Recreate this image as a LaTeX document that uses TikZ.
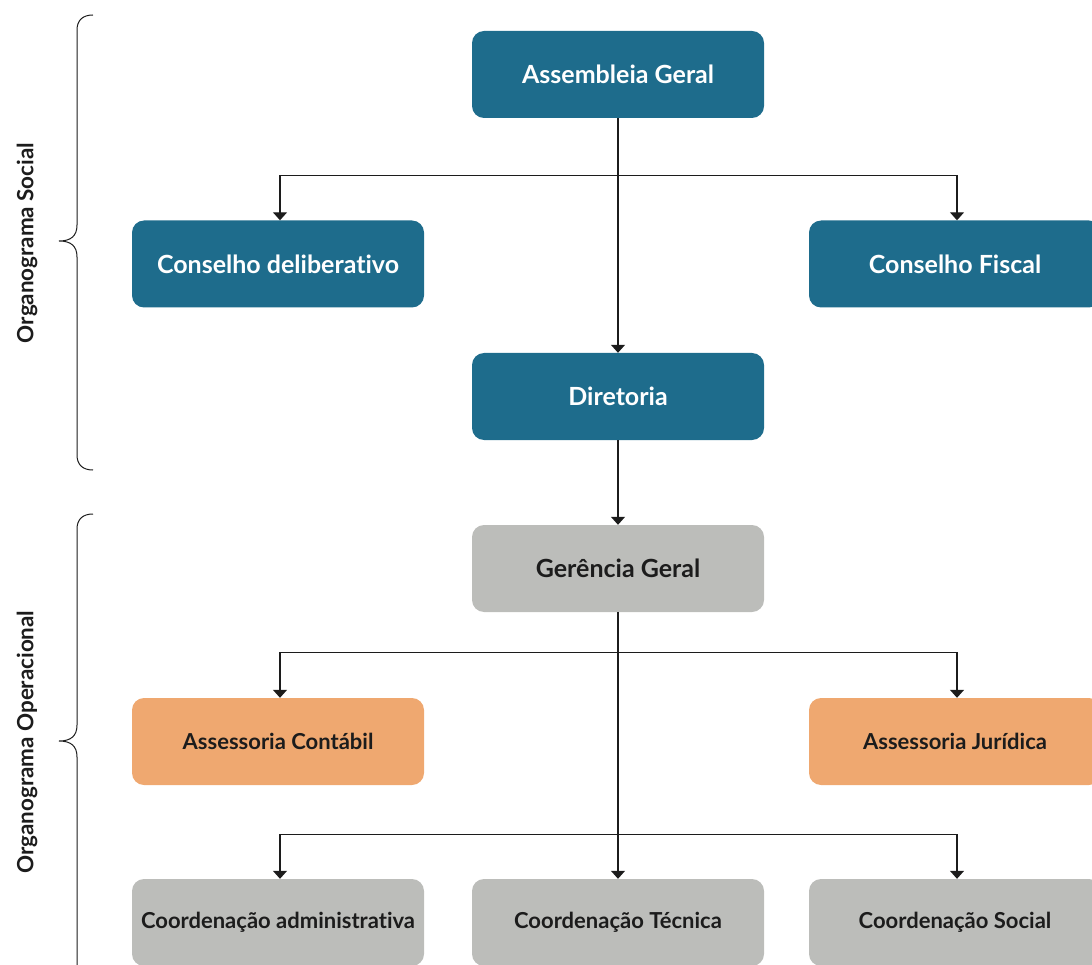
\documentclass[tikz,border=0pt]{standalone}
\usepackage{fontspec}
\setmainfont[Ligatures=NoCommon]{Lato}
\usetikzlibrary{arrows.meta}
\definecolor{teal}{HTML}{1E6C8C}
\definecolor{grayb}{HTML}{BCBDBA}
\definecolor{orangeb}{HTML}{EFA870}
\definecolor{ink}{HTML}{1C1C1C}
\tikzset{
  box/.style={rectangle, rounded corners=12pt, minimum width=292pt, minimum height=87pt, inner sep=0pt, font=\bfseries\fontsize{25}{30}\selectfont},
  social/.style={box, fill=teal, text=white},
  gerencia/.style={box, fill=grayb, text=ink},
  assessoria/.style={box, fill=orangeb, text=ink, font=\bfseries\fontsize{22}{26}\selectfont},
  coord/.style={box, fill=grayb, text=ink, font=\bfseries\fontsize{22}{26}\selectfont},
  arr/.style={draw=ink, line width=1.2pt, -{Triangle[width=14pt,length=8pt]}},
  bracket/.style={draw=ink, line width=1pt},
  grouplabel/.style={rotate=90, text=ink, font=\bfseries\fontsize{22.4}{26}\selectfont}
}
\begin{document}
\begin{tikzpicture}[x=1pt, y=-1pt]
\useasboundingbox (0,0) rectangle (1092,965);
\clip (0,0) rectangle (1092,965);

% governance bodies
\node[social] (ag)  at (618,74.5) {Assembleia Geral};
\node[social] (cd)  at (278,264)  {Conselho deliberativo};
\node[social] (cf)  at (955,264)  {Conselho Fiscal};
\node[social] (dir) at (618,396.5) {Diretoria};

% operational structure
\node[gerencia]   (gg) at (618,568.5) {Gerência Geral};
\node[assessoria] (ac) at (278,741.5) {Assessoria Contábil};
\node[assessoria] (aj) at (955,741.5) {Assessoria Jurídica};
\node[coord] (ca) at (278,922.5) {Coordenação administrativa};
\node[coord] (ct) at (618,922.5) {Coordenação Técnica};
\node[coord] (cs) at (955,922.5) {Coordenação Social};

% connectors
\draw[arr] (ag.south) -- (dir.north);
\draw[arr] (ag.south) -- ++(0,57) -| ([xshift=2pt]cd.north);
\draw[arr] (ag.south) -- ++(0,57) -| ([xshift=2pt]cf.north);
\draw[arr] (dir.south) -- (gg.north);
\draw[arr] (gg.south) -- (ct.north);
\draw[arr] (gg.south) -- ++(0,40) -| ([xshift=2pt]ac.north);
\draw[arr] (gg.south) -- ++(0,40) -| ([xshift=2pt]aj.north);
\draw[arr] (gg.south) -- ++(0,222) -| ([xshift=2pt]ca.north);
\draw[arr] (gg.south) -- ++(0,222) -| ([xshift=2pt]cs.north);

% group brackets
\draw[bracket] (93,15) .. controls (83,15) and (77,20) .. (77,30) -- (77,225)
  .. controls (77,236) and (71,241) .. (59,241)
  .. controls (71,241) and (77,246) .. (77,257) -- (77,455)
  .. controls (77,465) and (83,470) .. (93,470);
\draw[bracket] (93,514) .. controls (83,514) and (77,519) .. (77,529) -- (77,725)
  .. controls (77,736) and (71,741) .. (59,741)
  .. controls (71,741) and (77,746) .. (77,757) -- (77,980);

\node[grouplabel] (ls) at (27,243) {Organograma Social};
\node[grouplabel] (lo) at (27,742) {Organograma Operacional};
\end{tikzpicture}
\end{document}
